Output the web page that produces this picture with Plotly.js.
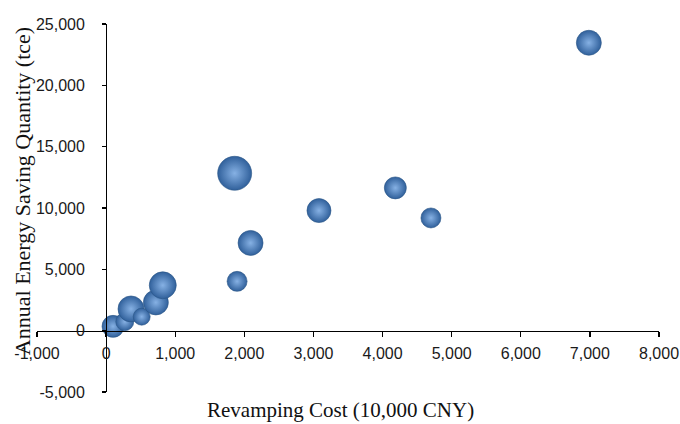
<!DOCTYPE html>
<html>
<head>
<meta charset="utf-8">
<script src="https://cdn.plot.ly/plotly-3.0.1.min.js"></script>
<style>html,body{margin:0;padding:0;background:#fff;}#chart{width:680px;height:424px;}</style>
</head>
<body>
<div id="chart"></div>
<script>
// Revamping cost (10,000 CNY)
const revampingCost = [100, 270, 360, 515, 720, 820, 1860, 1895, 2090, 3080, 4185, 4700, 6985];
// Annual energy saving quantity (tce)
const energySaving = [350, 730, 1770, 1140, 2300, 3700, 12830, 4020, 7150, 9790, 11640, 9190, 23470];
// Bubble size values (relative)
const bubbleSize = [22, 18, 26, 17, 25, 27, 34, 20, 25, 24, 22, 20, 25];

const xTickVals = [-1000, 0, 1000, 2000, 3000, 4000, 5000, 6000, 7000, 8000];
const xTickText = ['-1,000', '0', '1,000', '2,000', '3,000', '4,000', '5,000', '6,000', '7,000', '8,000'];
const yTickVals = [-5000, 0, 5000, 10000, 15000, 20000, 25000];
const yTickText = ['-5,000', '0', '5,000', '10,000', '15,000', '20,000', '25,000'];

const xTitle = 'Revamping Cost (10,000 CNY)';
const yTitle = 'Annual Energy Saving Quantity (tce)';

const trace = {
  type: 'scatter',
  mode: 'markers',
  x: revampingCost,
  y: energySaving,
  marker: {
    size: bubbleSize,
    sizemode: 'diameter',
    sizeref: 1,
    color: '#30609b',
    gradient: {type: 'radial', color: '#86b1e4'},
    line: {width: 0.6, color: '#2a5586'},
    opacity: 1
  },
  hoverinfo: 'x+y'
};

const tickFont = {family: 'Liberation Sans, Arial, sans-serif', size: 16, color: '#1a1a1a'};
const xTitleFont = {family: 'Liberation Serif, Times New Roman, serif', size: 21, color: '#111'};
const yTitleFont = {family: 'Liberation Serif, Times New Roman, serif', size: 22, color: '#111'};

const xMin = -1000, xMax = 8000, yMin = -5000, yMax = 25000;

const layout = {
  width: 680,
  height: 424,
  margin: {l: 37, r: 21, t: 24, b: 32, pad: 0},
  paper_bgcolor: '#ffffff',
  plot_bgcolor: '#ffffff',
  showlegend: false,
  xaxis: {
    range: [xMin, xMax],
    tickvals: xTickVals,
    ticktext: xTickText,
    showgrid: false,
    zeroline: false,
    showline: true,
    linecolor: '#000',
    linewidth: 1.3,
    ticks: 'outside',
    ticklen: 5,
    tickcolor: '#000',
    tickwidth: 1.3,
    tickfont: tickFont,
    ticklabelstandoff: 3,
    anchor: 'free',
    position: (0 - yMin) / (yMax - yMin)
  },
  yaxis: {
    range: [yMin, yMax],
    tickvals: yTickVals,
    ticktext: yTickText,
    showgrid: false,
    zeroline: false,
    showline: true,
    linecolor: '#000',
    linewidth: 1.3,
    ticks: 'outside',
    ticklen: 4,
    tickcolor: '#000',
    tickwidth: 1.3,
    tickfont: tickFont,
    ticklabelstandoff: 14,
    anchor: 'free',
    position: (0 - xMin) / (xMax - xMin)
  },
  annotations: [
    {text: xTitle, xref: 'paper', yref: 'paper', x: 0.488, y: -0.05, xanchor: 'center', yanchor: 'middle', showarrow: false, font: xTitleFont},
    {text: yTitle, xref: 'paper', yref: 'paper', x: -0.023, y: 0.545, xanchor: 'center', yanchor: 'middle', textangle: -90, showarrow: false, font: yTitleFont}
  ]
};

Plotly.newPlot('chart', [trace], layout, {displayModeBar: false, staticPlot: true});
</script>
</body>
</html>
